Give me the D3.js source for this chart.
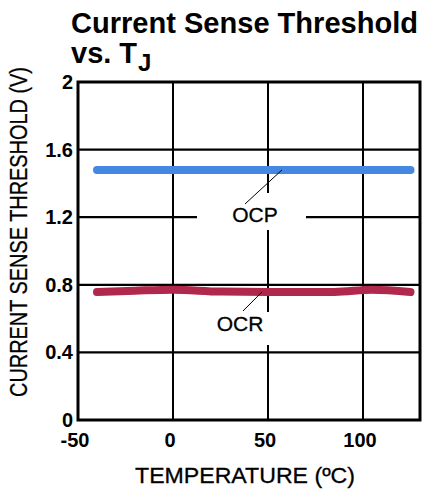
<!DOCTYPE html>
<html>
<head>
<meta charset="utf-8">
<script src="https://cdn.jsdelivr.net/npm/d3@7"></script>
<style>
  html, body { margin: 0; padding: 0; background: #fff; }
  svg { display: block; }
  text { font-family: "Liberation Sans", Arial, Helvetica, sans-serif; fill: #000; }
</style>
</head>
<body>
<svg id="chart" width="428" height="491"></svg>
<script>
// Junction temperature (°C) sample points
const tempOCP = [-40, 0, 25, 50, 85, 105, 125];
const ocpValues = [1.48, 1.48, 1.48, 1.48, 1.48, 1.48, 1.48];

const tempOCR = [-40, -20, 0, 25, 50, 85, 105, 125];
const ocrValues = [0.757, 0.765, 0.771, 0.760, 0.758, 0.758, 0.771, 0.757];

const xTicks = [-50, 0, 50, 100];
const yTicks = [0, 0.4, 0.8, 1.2, 1.6, 2];
const yTickLabels = ["0", "0.4", "0.8", "1.2", "1.6", "2"];

const svg = d3.select("#chart");
const margin = { left: 78, top: 82, right: 8, bottom: 71 };
const W = 428, H = 491;
const x = d3.scaleLinear().domain([-50, 130]).range([margin.left, W - margin.right]);
const y = d3.scaleLinear().domain([0, 2]).range([H - margin.bottom, margin.top]);

// Title
svg.append("text")
  .attr("x", 71).attr("y", 33)
  .style("font-weight", "bold").style("font-size", "29px")
  .attr("textLength", 347).attr("lengthAdjust", "spacingAndGlyphs")
  .text("Current Sense Threshold");
const t2 = svg.append("text")
  .attr("x", 71).attr("y", 63)
  .style("font-weight", "bold").style("font-size", "29px");
t2.append("tspan").text("vs. T");
t2.append("tspan").attr("dx", 1).attr("dy", 8).style("font-size", "24px").text("J");

// Grid lines
const grid = svg.append("g");
grid.selectAll("line.v").data(xTicks.filter(d => d > -50))
  .join("line")
  .attr("x1", d => x(d)).attr("x2", d => x(d))
  .attr("y1", y(2)).attr("y2", y(0))
  .attr("stroke", "#000").attr("stroke-width", 2);
grid.selectAll("line.h").data(yTicks.filter(d => d > 0 && d < 2))
  .join("line")
  .attr("x1", x(-50)).attr("x2", x(130))
  .attr("y1", d => y(d)).attr("y2", d => y(d))
  .attr("stroke", "#000").attr("stroke-width", 2.2);

// White knock-outs behind the curve labels
svg.append("rect").attr("x", 197).attr("y", 193).attr("width", 109).attr("height", 37).attr("fill", "#fff");
svg.append("rect").attr("x", 212).attr("y", 312).attr("width", 66).attr("height", 33).attr("fill", "#fff");

// Plot frame
svg.append("rect")
  .attr("x", x(-50)).attr("y", y(2))
  .attr("width", x(130) - x(-50)).attr("height", y(0) - y(2))
  .attr("fill", "none").attr("stroke", "#000").attr("stroke-width", 3);

// Curves
const line = d3.line().curve(d3.curveMonotoneX);
svg.append("path")
  .attr("d", line(tempOCP.map((t, i) => [x(t), y(ocpValues[i])])))
  .attr("fill", "none").attr("stroke", "#4488e2")
  .attr("stroke-width", 8).attr("stroke-linecap", "round");
svg.append("path")
  .attr("d", line(tempOCR.map((t, i) => [x(t), y(ocrValues[i])])))
  .attr("fill", "none").attr("stroke", "#b0294c")
  .attr("stroke-width", 8).attr("stroke-linecap", "round");

// Curve labels with leader lines
svg.append("line").attr("x1", 245).attr("y1", 204).attr("x2", 282).attr("y2", y(1.48))
  .attr("stroke", "#000").attr("stroke-width", 1);
svg.append("text").attr("x", 255).attr("y", 222).attr("text-anchor", "middle")
  .style("font-size", "21px").attr("stroke", "#000").attr("stroke-width", 0.3)
  .text("OCP");
svg.append("line").attr("x1", 243).attr("y1", 311).attr("x2", 262).attr("y2", y(0.758))
  .attr("stroke", "#000").attr("stroke-width", 1);
svg.append("text").attr("x", 240).attr("y", 331).attr("text-anchor", "middle")
  .style("font-size", "21px").attr("stroke", "#000").attr("stroke-width", 0.3)
  .text("OCR");

// Y tick labels
svg.append("g").selectAll("text").data(yTicks)
  .join("text")
  .attr("x", 73).attr("y", d => y(d) + 7)
  .attr("text-anchor", "end")
  .style("font-weight", "bold").style("font-size", "20px")
  .text((d, i) => yTickLabels[i]);

// X tick labels
svg.append("g").selectAll("text").data(xTicks)
  .join("text")
  .attr("x", d => x(d) - 3).attr("y", 447)
  .attr("text-anchor", "middle")
  .style("font-weight", "bold").style("font-size", "20px")
  .text(d => d);

// Axis titles
svg.append("text")
  .attr("x", 245).attr("y", 483).attr("text-anchor", "middle")
  .style("font-size", "22px").attr("stroke", "#000").attr("stroke-width", 0.3)
  .attr("textLength", 220).attr("lengthAdjust", "spacingAndGlyphs")
  .text("TEMPERATURE (ºC)");
svg.append("text")
  .attr("transform", "translate(27,232) rotate(-90)")
  .attr("text-anchor", "middle")
  .style("font-size", "23px").attr("stroke", "#000").attr("stroke-width", 0.3)
  .attr("textLength", 330).attr("lengthAdjust", "spacingAndGlyphs")
  .text("CURRENT SENSE THRESHOLD (V)");
</script>
</body>
</html>
